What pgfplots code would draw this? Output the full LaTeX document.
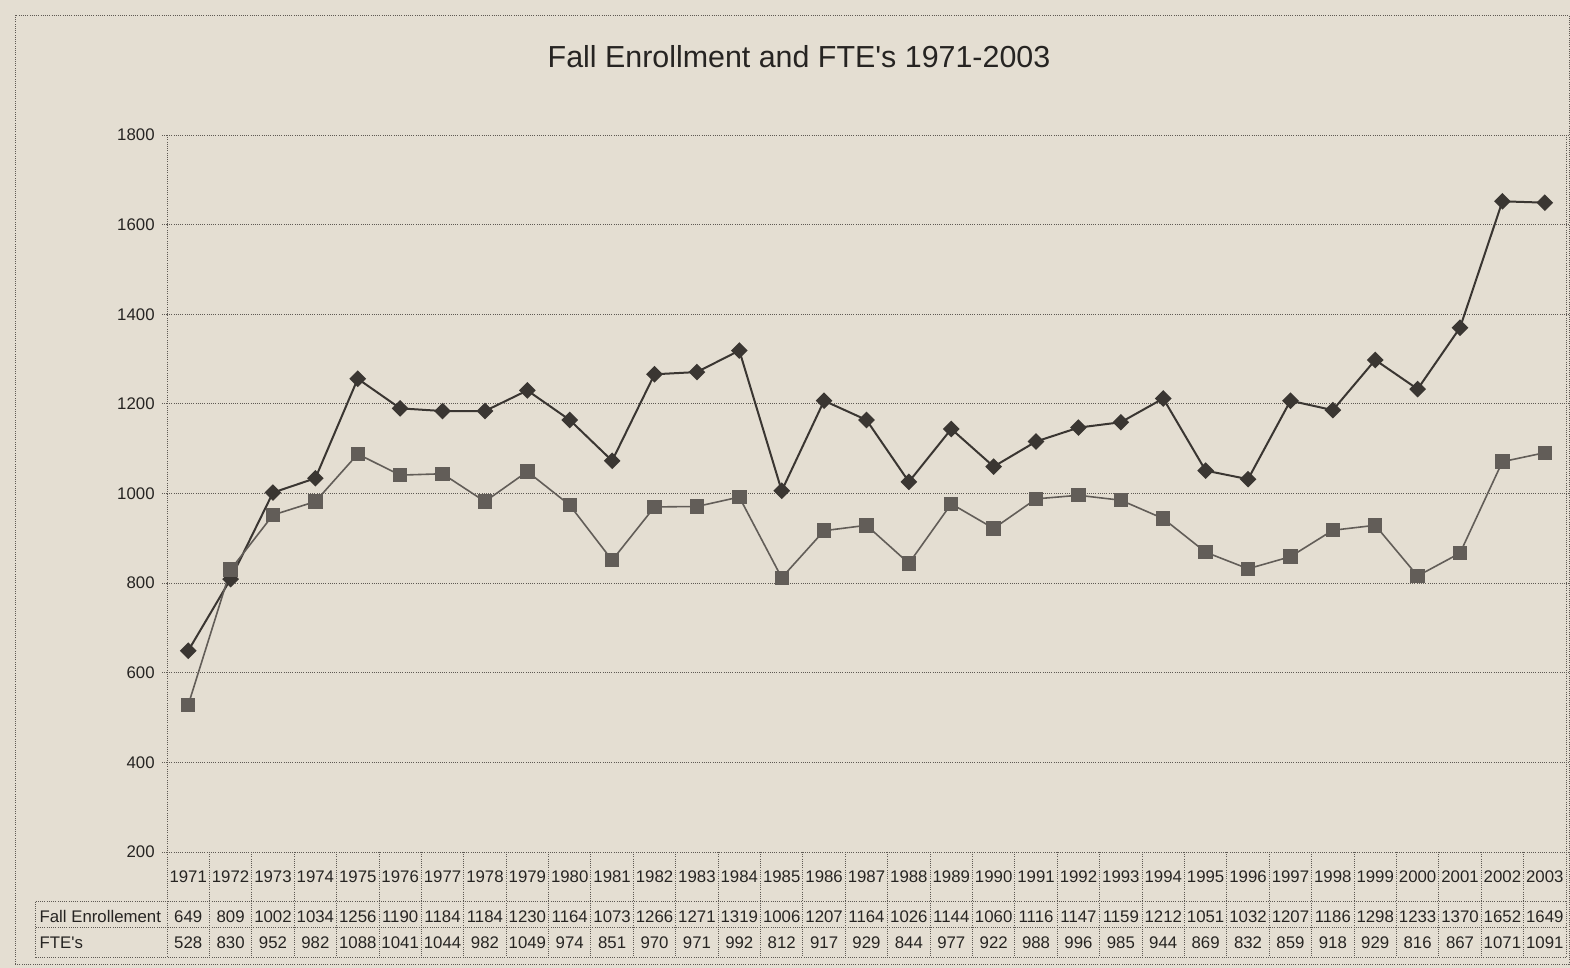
\documentclass[border=0pt]{standalone}
\usepackage{pgfplots}
\pgfplotsset{compat=1.18}
\usepackage{pgfplotstable}
\usepackage{fontspec}
\setmainfont{Liberation Sans}[Ligatures=TeXOff]
\definecolor{bg}{RGB}{228,222,210}
\definecolor{txt}{RGB}{38,36,34}
\definecolor{gridc}{RGB}{95,90,84}
\definecolor{enrc}{RGB}{58,54,50}
\definecolor{ftec}{RGB}{98,93,88}
\tikzset{gridline/.style={draw=gridc, line width=0.45pt, dash pattern=on 0.5pt off 0.6pt}}

\pgfplotstableread{
year enr fte
1971 649 528
1972 809 830
1973 1002 952
1974 1034 982
1975 1256 1088
1976 1190 1041
1977 1184 1044
1978 1184 982
1979 1230 1049
1980 1164 974
1981 1073 851
1982 1266 970
1983 1271 971
1984 1319 992
1985 1006 812
1986 1207 917
1987 1164 929
1988 1026 844
1989 1144 977
1990 1060 922
1991 1116 988
1992 1147 996
1993 1159 985
1994 1212 944
1995 1051 869
1996 1032 832
1997 1207 859
1998 1186 918
1999 1298 929
2000 1233 816
2001 1370 867
2002 1652 1071
2003 1649 1091
}\datatable

\begin{document}
\begin{tikzpicture}[x=1pt,y=1pt]
\useasboundingbox (-83.5,-58) rectangle (701.5,426);
\fill[bg] (-83.5,-58) rectangle (701.5,426);
\draw[gridline] (-76,-56) rectangle (701,418.5);
\begin{axis}[
  at={(0,0)}, anchor=south west,
  scale only axis, width=699.5pt, height=358.5pt,
  xmin=1970.5, xmax=2003.5, ymin=200, ymax=1800,
  xtick=\empty,
  ytick={200,400,...,1800},
  ymajorgrids, grid style={gridline},
  axis line style={draw=none},
  major tick length=2.5pt, tick align=outside,
  tick style={gridline},
  clip=false,
  /pgf/number format/1000 sep={},
  /pgf/number format/assume math mode=true,
  tick label style={font=\fontsize{8.4}{10}\selectfont, text=txt},
  yticklabel style={inner sep=0pt, xshift=-3.5pt},
  every node near coord/.append style={anchor=center, font=\fontsize{8.4}{10}\selectfont, text=txt, inner sep=0pt},
]
\addplot[draw=enrc, line width=1pt, mark=square*, mark size=2.45pt, mark options={fill=enrc, draw=enrc, solid, rotate=45}]
  table[x=year, y=enr] {\datatable};
\addplot[draw=ftec, line width=0.8pt, mark=square*, mark size=3.2pt, mark options={fill=ftec, draw=ftec, solid}]
  table[x=year, y=fte] {\datatable};
% data table rows
\addplot[draw=none, mark=none, nodes near coords, point meta=explicit symbolic,
  every node near coord/.append style={yshift=-12.25pt}]
  table[x=year, y expr=200, meta=year] {\datatable};
\addplot[draw=none, mark=none, nodes near coords, point meta=explicit symbolic,
  every node near coord/.append style={yshift=-32.3pt}]
  table[x=year, y expr=200, meta=enr] {\datatable};
\addplot[draw=none, mark=none, nodes near coords, point meta=explicit symbolic,
  every node near coord/.append style={yshift=-45.5pt}]
  table[x=year, y expr=200, meta=fte] {\datatable};
\end{axis}
% frame and table lines
\draw[gridline] (0,358.5) -- (0,-52.5);
\draw[gridline] (699.5,358.5) -- (699.5,-52.5);
\foreach \i in {1,...,32} \draw[gridline] ({\i*21.197},0) -- ({\i*21.197},-52.5);
\draw[gridline] (-65.65,-24.85) -- (699.5,-24.85);
\draw[gridline] (-65.65,-37.5) -- (699.5,-37.5);
\draw[gridline] (-65.65,-52.5) -- (699.5,-52.5);
\draw[gridline] (-65.65,-24.85) -- (-65.65,-52.5);
\node[anchor=west, inner sep=0pt, text=txt, font=\fontsize{8.4}{10}\selectfont] at (-63.9,-32.3) {Fall Enrollement};
\node[anchor=west, inner sep=0pt, text=txt, font=\fontsize{8.4}{10}\selectfont] at (-63.9,-45.5) {FTE's};
\node[text=txt, font=\fontsize{15.2}{18}\selectfont] at (316,397.5) {Fall Enrollment and FTE's 1971-2003};
\end{tikzpicture}
\end{document}
